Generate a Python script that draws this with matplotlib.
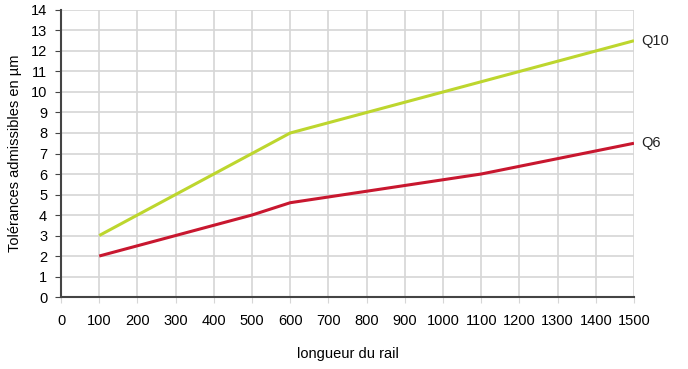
import matplotlib.pyplot as plt

plt.rcParams['font.family'] = ['Liberation Sans', 'DejaVu Sans']

# valeurs
x_q10 = [100, 600, 1500]
y_q10 = [3, 8, 12.5]
x_q6 = [100, 500, 600, 1100, 1500]
y_q6 = [2, 4, 4.6, 6, 7.5]
xticks = list(range(0, 1501, 100))
yticks = list(range(0, 15))

fig = plt.figure(figsize=(6.88, 3.69), dpi=100)
ax = fig.add_axes([0.0887, 0.195, 0.8328, 0.778])

ax.plot(x_q10, y_q10, color='#bdd62e', lw=2.2, solid_capstyle='butt', zorder=3)
ax.plot(x_q6, y_q6, color='#c8172f', lw=2.2, solid_capstyle='butt', zorder=3)

ax.text(1520, 12.5, 'Q10', fontsize=10.5, va='center', ha='left', color='#222222')
ax.text(1520, 7.5, 'Q6', fontsize=10.5, va='center', ha='left', color='#222222')

ax.set_xlim(0, 1500)
ax.set_ylim(0, 14)
ax.set_xticks(xticks)
ax.set_yticks(yticks)
ax.grid(True, color='#d6d6d6', lw=1.2)
ax.set_axisbelow(True)

for s in ['top', 'right']:
    ax.spines[s].set_visible(False)
ax.spines['left'].set_color('#444444')
ax.spines['bottom'].set_color('#444444')
ax.spines['left'].set_linewidth(1.5)
ax.spines['bottom'].set_linewidth(1.5)
ax.tick_params(axis='y', length=4, color='#444444', labelsize=10.5, pad=6)
ax.tick_params(axis='x', length=4, color='#d6d6d6', labelsize=10.5, pad=8)

ax.set_xlabel('longueur du rail', fontsize=10.5, labelpad=14)
ax.set_ylabel('Tolérances admissibles en µm', fontsize=10.5, labelpad=6)

fig.savefig('out.png', dpi=100)
